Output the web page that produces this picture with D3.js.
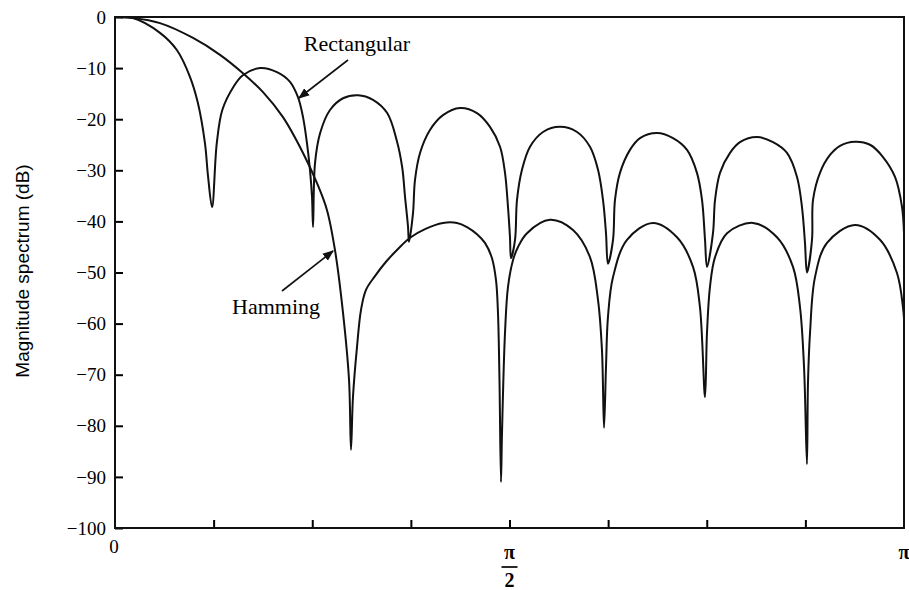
<!DOCTYPE html>
<html lang="en">
<head>
    <meta charset="UTF-8">
    <title>Magnitude spectrum</title>
    <script src="https://cdn.jsdelivr.net/npm/d3@7"></script>
    <style>
        body { margin: 0; background: #fff; }
        svg { display: block; }
    </style>
</head>
<body>
    <svg id="chart" width="909" height="590"></svg>
    <script>
        // frequency is in units of pi (0..1), magnitude in dB
        var rectFreq = [0, 0.0228, 0.057, 0.0786, 0.095, 0.105, 0.114, 0.118, 0.123,
            0.129, 0.136, 0.150, 0.162, 0.184, 0.2053, 0.2218, 0.2319, 0.2383, 0.2433, 0.2471, 0.2497, 0.251,
            0.2535, 0.260, 0.2725, 0.289, 0.308, 0.327, 0.345, 0.357, 0.364, 0.3676, 0.3714, 0.3726,
            0.3777, 0.3802, 0.3866, 0.3992, 0.4157, 0.4373, 0.4588, 0.4753, 0.488, 0.4943, 0.4981, 0.5006, 0.5019,
            0.507, 0.5095, 0.5158, 0.526, 0.5425, 0.564, 0.5856, 0.602, 0.6122, 0.6185, 0.6223, 0.6248,
            0.6312, 0.6337, 0.640, 0.6527, 0.6654, 0.687, 0.7072, 0.725, 0.7376, 0.744, 0.7478, 0.7503,
            0.7579, 0.7605, 0.7668, 0.7795, 0.7921, 0.8137, 0.834, 0.8517, 0.8644, 0.8707, 0.8745, 0.877,
            0.8834, 0.8847, 0.8935, 0.9062, 0.9189, 0.9379, 0.9569, 0.9734, 0.9886, 0.9975, 1.0];
        var rectDb = [0, -0.2, -3.1, -6.5, -11.7, -16.8, -24.7, -31.3, -37.2,
            -24.7, -18.2, -13.7, -11.4, -10.0, -10.8, -12.7, -15.7, -19.6, -24.7, -29.9, -35.2, -41.1,
            -28.6, -22.7, -18.2, -15.9, -15.3, -16.2, -18.8, -24.1, -29.4, -35.2, -41.1, -44.0,
            -38.4, -31.9, -26.6, -22.1, -19.2, -17.8, -18.8, -21.5, -25.4, -30.5, -37.2, -43.1, -47.2,
            -43.6, -35.8, -29.9, -25.4, -22.5, -21.5, -22.5, -25.4, -29.9, -35.8, -42.3, -48.3,
            -43.6, -35.8, -30.5, -26.0, -23.7, -22.7, -23.7, -26.0, -30.5, -35.8, -43.6, -48.9,
            -42.3, -35.8, -30.5, -26.6, -24.5, -23.5, -24.5, -26.6, -31.3, -37.2, -44.2, -50.0,
            -43.6, -35.8, -30.5, -27.0, -25.2, -24.4, -25.0, -27.4, -31.3, -37.2, -42.3];

        var hammFreq = [0, 0.0228, 0.057, 0.0989, 0.1331, 0.1622, 0.1876, 0.2129, 0.2383, 0.256, 0.2687,
            0.2788, 0.289, 0.2966, 0.2991,
            0.3016, 0.3067, 0.3118, 0.3181, 0.3295, 0.3435, 0.3574, 0.3739, 0.3929, 0.4157, 0.4335, 0.4461,
            0.4588, 0.4689, 0.4778, 0.4829, 0.4854, 0.4873, 0.4892,
            0.4905, 0.4943, 0.4981, 0.5044, 0.5108, 0.5222, 0.5513, 0.5805, 0.602, 0.6122, 0.6172, 0.6198,
            0.6223, 0.6248, 0.6312, 0.6489, 0.6819, 0.7123, 0.7326, 0.7414, 0.7478,
            0.7503, 0.7541, 0.7605, 0.7757, 0.8086, 0.839, 0.8593, 0.8682, 0.8733, 0.877,
            0.8783, 0.8809, 0.8872, 0.9024, 0.9379, 0.9696, 0.9911, 0.9987, 1.0];
        var hammDb = [0, -0.2, -1.2, -4.1, -7.4, -11.0, -14.7, -19.6, -26.6, -32.5, -37.8,
            -45.6, -57.9, -71.0, -84.7,
            -74.4, -64.6, -57.3, -53.4, -50.7, -47.9, -45.6, -43.2, -41.5, -40.3, -40.3, -41.1,
            -42.5, -44.2, -47.2, -51.5, -57.9, -71.0, -91.0,
            -81.4, -61.8, -52.8, -47.6, -45.0, -42.3, -39.7, -41.7, -47.0, -55.4, -65.2, -80.4,
            -68.5, -58.7, -50.9, -43.6, -40.3, -43.1, -48.9, -56.8, -74.4,
            -61.8, -52.8, -47.0, -42.3, -40.3, -43.1, -48.9, -56.8, -68.5, -87.5,
            -71.6, -61.8, -50.9, -44.2, -40.7, -43.6, -50.1, -56.8, -59.0];

        var yTicks = [0, -10, -20, -30, -40, -50, -60, -70, -80, -90, -100];
        var xTicks = [0.125, 0.25, 0.375, 0.5, 0.625, 0.75, 0.875];

        var svg = d3.select("#chart");
        var pLeft = 115, pRight = 904, pTop = 17, pBottom = 528;
        var serif = "'Liberation Serif', 'Times New Roman', serif";

        var x = d3.scaleLinear().domain([0, 1]).range([pLeft, pRight]);
        var y = d3.scaleLinear().domain([0, -100]).range([pTop, pBottom]);

        var line = d3.line()
            .x(function(d){ return x(d[0]); })
            .y(function(d){ return y(d[1]); })
            .curve(d3.curveCatmullRom.alpha(0.5));

        svg.append("clipPath").attr("id", "plotclip")
            .append("rect").attr("x", pLeft).attr("y", pTop)
            .attr("width", pRight - pLeft).attr("height", pBottom - pTop);

        var rectData = d3.zip(rectFreq, rectDb);
        var hammData = d3.zip(hammFreq, hammDb);

        var g = svg.append("g").attr("clip-path", "url(#plotclip)");
        g.append("path").datum(rectData).attr("d", line)
            .attr("fill", "none").attr("stroke", "#111").attr("stroke-width", 2);
        g.append("path").datum(hammData).attr("d", line)
            .attr("fill", "none").attr("stroke", "#111").attr("stroke-width", 2);

        // y axis, ticks pointing inward
        var yAxis = d3.axisRight(y).tickValues(yTicks).tickSize(8).tickFormat("");
        svg.append("g").attr("transform", "translate(" + pLeft + ",0)").call(yAxis)
            .call(function(s){ s.select(".domain").remove(); s.selectAll("line").attr("stroke-width", 2); });

        svg.append("g").selectAll("text").data(yTicks).enter().append("text")
            .attr("x", pLeft - 9).attr("y", function(d){ return y(d); })
            .attr("dy", "0.35em").attr("text-anchor", "end")
            .attr("font-family", serif).attr("font-size", 19)
            .text(function(d){ return d === 0 ? "0" : "\u2212" + Math.abs(d); });

        // x axis, ticks pointing inward
        var xAxis = d3.axisTop(x).tickValues(xTicks).tickSize(8).tickFormat("");
        svg.append("g").attr("transform", "translate(0," + pBottom + ")").call(xAxis)
            .call(function(s){ s.select(".domain").remove(); s.selectAll("line").attr("stroke-width", 2); });

        svg.append("text").attr("x", x(0) - 1).attr("y", pBottom + 25)
            .attr("text-anchor", "middle").attr("font-family", serif).attr("font-size", 19).text("0");
        svg.append("text").attr("x", x(0.5)).attr("y", pBottom + 31)
            .attr("text-anchor", "middle").attr("font-family", serif).attr("font-size", 20)
            .attr("font-weight", "bold").text("\u03c0");
        svg.append("line").attr("x1", x(0.5) - 8).attr("x2", x(0.5) + 8)
            .attr("y1", pBottom + 39).attr("y2", pBottom + 39).attr("stroke", "#111").attr("stroke-width", 1.8);
        svg.append("text").attr("x", x(0.5)).attr("y", pBottom + 59)
            .attr("text-anchor", "middle").attr("font-family", serif).attr("font-size", 20)
            .attr("font-weight", "bold").text("2");
        svg.append("text").attr("x", x(1)).attr("y", pBottom + 31)
            .attr("text-anchor", "middle").attr("font-family", serif).attr("font-size", 20)
            .attr("font-weight", "bold").text("\u03c0");

        // frame
        svg.append("rect").attr("x", pLeft).attr("y", pTop)
            .attr("width", pRight - pLeft).attr("height", pBottom - pTop)
            .attr("fill", "none").attr("stroke", "#111").attr("stroke-width", 2);

        svg.append("text")
            .attr("transform", "translate(29," + 271 + ") rotate(-90)")
            .attr("text-anchor", "middle").attr("font-family", "'Liberation Sans', Arial, sans-serif")
            .attr("font-size", 19).text("Magnitude spectrum (dB)");

        // annotations
        svg.append("defs").append("marker").attr("id", "arrow")
            .attr("viewBox", "0 0 10 10").attr("refX", 9).attr("refY", 5)
            .attr("markerWidth", 7).attr("markerHeight", 7).attr("orient", "auto")
            .append("path").attr("d", "M0,1 L10,5 L0,9 Z").attr("fill", "#111");

        svg.append("text").attr("x", 357).attr("y", 51).attr("text-anchor", "middle")
            .attr("font-family", serif).attr("font-size", 22).text("Rectangular");
        svg.append("line").attr("x1", 348).attr("y1", 60).attr("x2", 299).attr("y2", 98)
            .attr("stroke", "#111").attr("stroke-width", 1.6).attr("marker-end", "url(#arrow)");

        svg.append("text").attr("x", 276).attr("y", 314).attr("text-anchor", "middle")
            .attr("font-family", serif).attr("font-size", 22).text("Hamming");
        svg.append("line").attr("x1", 282).attr("y1", 291).attr("x2", 333).attr("y2", 251)
            .attr("stroke", "#111").attr("stroke-width", 1.6).attr("marker-end", "url(#arrow)");
    </script>
</body>
</html>
